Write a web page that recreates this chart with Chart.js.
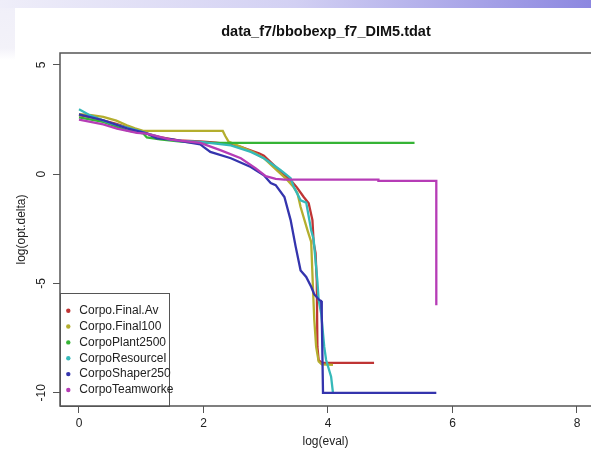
<!DOCTYPE html>
<html lang="en">
<head>
<meta charset="UTF-8">
<title>data_f7/bbobexp_f7_DIM5.tdat</title>
<script src="https://cdn.jsdelivr.net/npm/chart.js"></script>
<style>
  html, body { margin: 0; padding: 0; background: #fff; }
  canvas { display: block; }
</style>
</head>
<body>
<canvas id="grafico" width="591" height="450"></canvas>
<script>
    const titulo = 'data_f7/bbobexp_f7_DIM5.tdat';
    const nomes = ['Corpo.Final.Av', 'Corpo.Final100', 'CorpoPlant2500', 'CorpoResourceI', 'CorpoShaper250', 'CorpoTeamworke'];
    const cores = ['#bf3434', '#b4ae2e', '#35b435', '#35b9b9', '#3434ad', '#b63cb6'];
    const xTicks = [0, 2, 4, 6, 8];
    const yTicks = [5, 0, -5, -10];

    // log(eval) / log(opt.delta)
    const finalAvX = [0, 0.2, 0.4, 0.6, 0.8, 1.0, 1.1, 1.3, 1.6, 1.95, 2.2, 2.44, 2.6, 2.8, 2.9, 2.97, 3.1, 3.25, 3.4, 3.5, 3.61, 3.69, 3.75, 3.77, 3.8, 3.82, 3.83, 3.85, 3.9, 4.74];
    const finalAvY = [2.7, 2.6, 2.45, 2.3, 2.12, 1.95, 1.85, 1.7, 1.55, 1.5, 1.45, 1.35, 1.25, 1.05, 0.95, 0.85, 0.5, 0.1, -0.27, -0.6, -1.04, -1.33, -2.1, -3.15, -3.6, -4.9, -7.9, -8.5, -8.63, -8.63];

    const final100X = [0, 0.2, 0.39, 0.6, 0.77, 0.9, 1.03, 2.31, 2.35, 2.4, 2.6, 2.8, 2.97, 3.15, 3.35, 3.45, 3.51, 3.56, 3.67, 3.73, 3.76, 3.78, 3.81, 3.85, 3.9, 4.08];
    const final100Y = [2.75, 2.7, 2.62, 2.45, 2.24, 2.1, 1.98, 1.98, 1.75, 1.5, 1.25, 1.0, 0.73, 0.25, -0.27, -0.6, -0.87, -1.5, -2.56, -3.1, -5.3, -6.67, -7.9, -8.57, -8.7, -8.72];

    const plantX = [0, 0.39, 0.77, 1.03, 1.09, 1.3, 1.6, 1.9, 5.39];
    const plantY = [2.6, 2.39, 2.0, 1.87, 1.68, 1.6, 1.5, 1.43, 1.43];

    const resourceX = [0, 0.18, 0.5, 0.82, 1.09, 1.35, 1.63, 1.95, 2.44, 2.76, 2.97, 3.24, 3.4, 3.45, 3.56, 3.65, 3.73, 3.77, 3.83, 3.85, 3.89, 3.94, 3.97, 4.05, 4.08];
    const resourceY = [2.97, 2.69, 2.34, 2.1, 1.87, 1.64, 1.52, 1.48, 1.32, 1.02, 0.73, 0.18, -0.18, -0.58, -1.19, -1.3, -2.56, -3.0, -4.9, -5.75, -6.36, -7.9, -8.5, -9.26, -10];

    const shaperX = [0, 0.39, 0.77, 1.09, 1.25, 1.47, 1.95, 2.0, 2.11, 2.44, 2.76, 2.97, 3.08, 3.16, 3.3, 3.4, 3.48, 3.56, 3.65, 3.73, 3.78, 3.86, 3.89, 3.9, 3.92, 5.74];
    const shaperY = [2.74, 2.47, 2.1, 1.87, 1.64, 1.6, 1.37, 1.25, 1.02, 0.73, 0.33, -0.05, -0.4, -0.5, -1.04, -2.1, -3.3, -4.4, -4.7, -5.15, -5.5, -5.75, -5.8, -6.4, -10, -10];

    const teamX = [0, 0.39, 0.61, 0.93, 1.09, 1.25, 1.47, 1.95, 2.27, 2.6, 2.84, 3.0, 3.16, 3.3, 4.81, 4.81, 5.74, 5.74];
    const teamY = [2.5, 2.28, 2.09, 1.89, 1.86, 1.74, 1.58, 1.43, 1.1, 0.73, 0.27, -0.09, -0.21, -0.25, -0.25, -0.3, -0.3, -6.0];

    const series = [
        [finalAvX, finalAvY],
        [final100X, final100Y],
        [plantX, plantY],
        [resourceX, resourceY],
        [shaperX, shaperY],
        [teamX, teamY]
    ];

    const fonte = 'Liberation Sans, Arial, sans-serif';

    const datasets = series.map(function (s, i) {
        return {
            label: nomes[i],
            data: s[0].map((x, k) => ({ x: x, y: s[1][k] })),
            showLine: true,
            borderColor: cores[i],
            backgroundColor: cores[i],
            borderWidth: 2.3,
            pointRadius: 0,
            tension: 0,
            order: series.length - i
        };
    });

    // fundo do slide, caixa, rótulos do eixo y, título e legenda
    const moldura = {
        id: 'moldura',
        beforeDraw(chart) {
            const ctx = chart.ctx;
            ctx.save();
            ctx.fillStyle = '#ffffff';
            ctx.fillRect(0, 0, chart.width, chart.height);
            const faixa = ctx.createLinearGradient(0, 0, chart.width, 0);
            faixa.addColorStop(0, '#efeef9');
            faixa.addColorStop(0.5, '#d2d0f3');
            faixa.addColorStop(1, '#8c87e0');
            ctx.fillStyle = faixa;
            ctx.fillRect(0, 0, chart.width, 8);
            const lado = ctx.createLinearGradient(0, 0, 0, 60);
            lado.addColorStop(0, '#f0eff9');
            lado.addColorStop(0.8, '#f3f2f9');
            lado.addColorStop(1, 'rgba(243,242,249,0)');
            ctx.fillStyle = lado;
            ctx.fillRect(0, 8, 15, 52);
            ctx.restore();
        },
        afterDraw(chart) {
            const ctx = chart.ctx;
            const ca = chart.chartArea;
            const ys = chart.scales.y;
            ctx.save();

            ctx.strokeStyle = '#555';
            ctx.lineWidth = 1.5;
            ctx.strokeRect(ca.left, ca.top, ca.right - ca.left + 10, ca.bottom - ca.top);

            ctx.fillStyle = '#222';
            ctx.font = '12px ' + fonte;
            ctx.textAlign = 'center';
            ctx.textBaseline = 'middle';
            yTicks.forEach(function (v) {
                ctx.save();
                ctx.translate(41.5, ys.getPixelForValue(v));
                ctx.rotate(-Math.PI / 2);
                ctx.fillText(String(v), 0, 0);
                ctx.restore();
            });

            ctx.font = 'bold 14.5px ' + fonte;
            ctx.fillStyle = '#111';
            ctx.fillText(titulo, 326, 32);

            // legenda no canto inferior esquerdo
            const topo = ca.bottom - 113;
            ctx.strokeStyle = '#555';
            ctx.lineWidth = 1;
            ctx.strokeRect(ca.left + 0.5, topo + 0.5, 109, ca.bottom - topo);
            ctx.font = '12px ' + fonte;
            ctx.textAlign = 'left';
            nomes.forEach(function (nome, i) {
                const y = topo + 17.7 + i * 15.85;
                ctx.fillStyle = cores[i];
                ctx.beginPath();
                ctx.arc(ca.left + 8.3, y, 2.2, 0, Math.PI * 2);
                ctx.fill();
                ctx.fillStyle = '#222';
                ctx.fillText(nome, ca.left + 19.3, y);
            });
            ctx.restore();
        }
    };

    const grafico = new Chart(document.getElementById('grafico'), {
        type: 'scatter',
        data: { datasets: datasets },
        options: {
            responsive: false,
            animation: false,
            layout: { padding: { left: 0, top: 53, right: 0, bottom: 0 } },
            plugins: {
                legend: { display: false },
                tooltip: { enabled: false }
            },
            scales: {
                x: {
                    type: 'linear',
                    min: -0.305,
                    max: 8.225,
                    afterBuildTicks: function (s) { s.ticks = xTicks.map(v => ({ value: v })); },
                    border: { display: false },
                    grid: { display: true, drawOnChartArea: false, drawTicks: true, tickLength: 7, color: '#555', lineWidth: 1 },
                    ticks: { color: '#222', font: { family: fonte, size: 12 }, padding: 3, maxRotation: 0 },
                    title: { display: true, text: 'log(eval)', color: '#222', font: { family: fonte, size: 12 }, padding: { top: 1.2, bottom: 1 } }
                },
                y: {
                    type: 'linear',
                    min: -10.604,
                    max: 5.546,
                    afterBuildTicks: function (s) { s.ticks = yTicks.map(v => ({ value: v })); },
                    border: { display: false },
                    grid: { display: true, drawOnChartArea: false, drawTicks: true, tickLength: 7, color: '#555', lineWidth: 1 },
                    ticks: { display: false },
                    title: { display: true, text: 'log(opt.delta)', color: '#222', font: { family: fonte, size: 12 }, padding: { top: 14.8, bottom: 23.8 } }
                }
            }
        },
        plugins: [moldura]
    });
</script>
</body>
</html>
